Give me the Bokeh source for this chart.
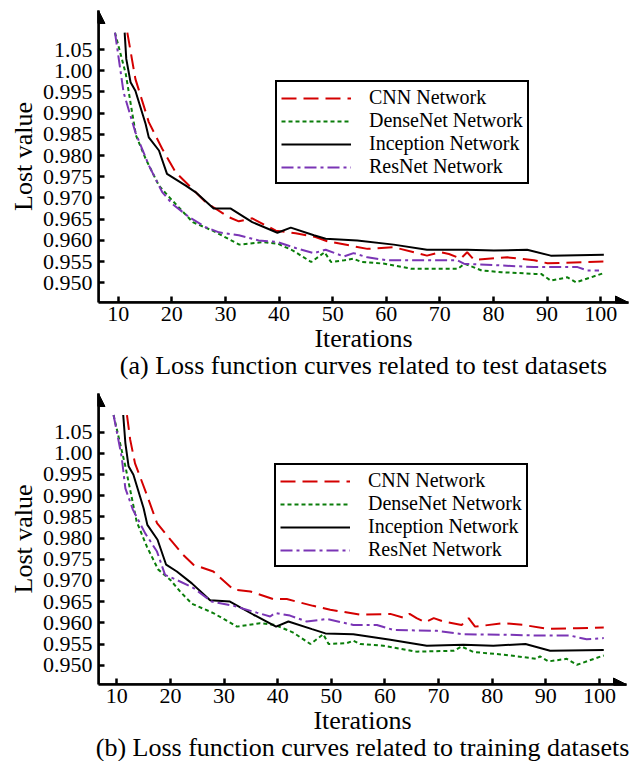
from bokeh.plotting import figure
from bokeh.models import Range1d, Arrow, NormalHead, FixedTicker, Legend, LegendItem
from bokeh.layouts import column
from bokeh.embed import file_html
from bokeh.resources import INLINE

# ---------------- data ----------------
series_names = ["CNN Network", "DenseNet Network", "Inception Network", "ResNet Network"]

y_ticks = [0.950, 0.955, 0.960, 0.965, 0.970, 0.975, 0.980, 0.985, 0.990, 0.995, 1.000, 1.005]
y_tick_labels = ["0.950", "0.955", "0.960", "0.965", "0.970", "0.975", "0.980", "0.985",
                 "0.990", "0.995", "1.00", "1.05"]
x_ticks = [10, 20, 30, 40, 50, 60, 70, 80, 90, 100]

# (a) test datasets
test_cnn_x = [11.7, 13.2, 15.7, 18.2, 20.7, 23.8, 26.3, 30.6, 32.5, 35.0, 39.4, 43.1, 46.8, 49.0,
              56.5, 61.4, 67.6, 70.1, 71.7, 73.9, 75.1, 76.4, 82.6, 87.6, 90.1, 100.6]
test_cnn_y = [1.009, 0.9981, 0.9879, 0.9816, 0.9761, 0.9722, 0.9690, 0.9655, 0.9645, 0.9652, 0.9623,
              0.9617, 0.9608, 0.9598, 0.9580, 0.9584, 0.9564, 0.9572, 0.9568, 0.9557, 0.9572, 0.9554,
              0.9560, 0.9553, 0.9546, 0.9550]
test_dense_x = [9.4, 11.4, 13.3, 15.1, 17.6, 20.1, 23.9, 27.6, 32.6, 37.0, 39.8, 42.6, 46.0, 48.5,
                49.7, 52.2, 53.8, 55.4, 59.7, 64.7, 73.4, 74.6, 77.8, 81.5, 87.7, 88.9, 90.7, 93.8,
                95.4, 100.6]
test_dense_y = [1.009, 0.9993, 0.9848, 0.9793, 0.9729, 0.9694, 0.9643, 0.9623, 0.9590, 0.9596, 0.9592,
                0.9576, 0.9549, 0.9572, 0.9549, 0.9553, 0.9557, 0.9549, 0.9545, 0.9533, 0.9533, 0.9545,
                0.9529, 0.9525, 0.9521, 0.9521, 0.9505, 0.9513, 0.9501, 0.9523]
test_incep_x = [11.2, 11.5, 12.3, 13.2, 15.1, 15.7, 17.6, 19.1, 22.6, 24.4, 27.8, 31.0, 35.0, 39.7,
                42.2, 46.5, 48.7, 54.6, 61.4, 67.6, 75.1, 80.1, 86.3, 90.7, 100.6]
test_incep_y = [1.009, 1.0028, 0.9973, 0.9953, 0.9875, 0.9843, 0.9812, 0.9757, 0.9729, 0.9714, 0.9675,
                0.9675, 0.9643, 0.9618, 0.9630, 0.9612, 0.9604, 0.9600, 0.9590, 0.9578, 0.9578, 0.9576,
                0.9578, 0.9564, 0.9566]
test_res_x = [9.4, 11.0, 13.2, 15.7, 18.2, 20.1, 23.2, 26.3, 28.8, 32.5, 36.2, 39.7, 43.1, 46.5, 48.7,
              52.1, 53.9, 56.5, 60.2, 65.8, 73.3, 74.5, 81.3, 87.6, 95.7, 97.5, 99.7]
test_res_y = [1.009, 0.9949, 0.9855, 0.9777, 0.9714, 0.9686, 0.9655, 0.9631, 0.9619, 0.9612, 0.9600,
              0.9596, 0.9582, 0.9570, 0.9578, 0.9562, 0.9570, 0.9560, 0.9553, 0.9553, 0.9553, 0.9545,
              0.9541, 0.9537, 0.9537, 0.9529, 0.9529]

# (b) training datasets
train_cnn_x = [11.9, 12.5, 13.4, 15.6, 17.5, 20.0, 22.4, 24.3, 28.0, 31.8, 34.9, 39.2, 41.7, 46.6,
               49.8, 55.4, 61.0, 63.5, 64.6, 65.9, 67.5, 69.1, 70.9, 74.3, 75.6, 76.8, 82.1, 85.8,
               90.2, 95.8, 100.8]
train_cnn_y = [1.009, 1.0032, 0.9976, 0.9902, 0.9835, 0.9796, 0.9760, 0.9737, 0.9721, 0.9678, 0.9674,
               0.9656, 0.9656, 0.9640, 0.9631, 0.9619, 0.9621, 0.9612, 0.9621, 0.9611, 0.9601, 0.9611,
               0.9603, 0.9595, 0.9611, 0.9591, 0.9599, 0.9595, 0.9586, 0.9587, 0.9589]
train_dense_x = [9.4, 11.6, 13.7, 15.6, 17.7, 20.0, 21.8, 24.0, 28.0, 32.4, 36.7, 39.5, 42.9, 46.1,
                 48.5, 49.5, 52.9, 54.1, 55.4, 59.7, 65.9, 72.8, 74.3, 76.5, 82.1, 88.3, 88.9, 90.5,
                 93.9, 95.8, 100.8]
train_dense_y = [1.009, 0.9969, 0.9839, 0.9780, 0.9726, 0.9701, 0.9674, 0.9645, 0.9623, 0.9591, 0.9599,
                 0.9595, 0.9577, 0.9550, 0.9573, 0.9550, 0.9552, 0.9558, 0.9550, 0.9546, 0.9532,
                 0.9534, 0.9544, 0.9531, 0.9525, 0.9515, 0.9521, 0.9509, 0.9515, 0.9501, 0.9523]
train_incep_x = [11.2, 11.6, 12.2, 13.1, 15.0, 15.7, 17.6, 19.2, 21.2, 24.0, 27.4, 31.1, 35.5, 39.7,
                 42.0, 46.4, 48.9, 54.1, 61.0, 67.8, 74.6, 80.2, 86.2, 90.8, 100.8]
train_incep_y = [1.009, 1.0024, 0.9969, 0.9949, 0.9870, 0.9831, 0.9796, 0.9737, 0.9721, 0.9693, 0.9653,
                 0.9650, 0.9619, 0.9591, 0.9603, 0.9585, 0.9575, 0.9573, 0.9560, 0.9546, 0.9548,
                 0.9546, 0.9550, 0.9534, 0.9536]
train_res_x = [9.4, 10.9, 11.6, 13.0, 15.3, 17.5, 19.0, 21.2, 24.3, 27.7, 31.8, 36.1, 38.6, 39.5, 42.3,
               45.4, 49.2, 54.1, 58.5, 61.6, 69.7, 74.6, 82.1, 88.3, 94.5, 97.6, 100.8]
train_res_y = [1.009, 0.9992, 0.9917, 0.9867, 0.9811, 0.9768, 0.9713, 0.9701, 0.9682, 0.9650, 0.9640,
               0.9624, 0.9615, 0.9623, 0.9617, 0.9603, 0.9609, 0.9595, 0.9595, 0.9583, 0.9581, 0.9573,
               0.9572, 0.9570, 0.9570, 0.9561, 0.9564]

captions = ["(a) Loss function curves related to test datasets",
            "(b) Loss function curves related to training datasets"]

# ---------------- styles ----------------
FONT = "Liberation Serif"
colors = ["#d40000", "#0a7d0a", "#000000", "#7a35b5"]
dashes = ["15 7", "4 3", "solid", "12 4 3 4"]


def make_panel(series, caption, xr, yr, fw, fh, left, right, bottom, legend_loc):
    p = figure(frame_width=fw, frame_height=fh, x_range=Range1d(*xr), y_range=Range1d(*yr),
               output_backend="svg", toolbar_location=None,
               min_border_left=left, min_border_right=right, min_border_top=10,
               min_border_bottom=bottom)
    p.background_fill_color = "white"
    p.border_fill_color = "white"
    p.outline_line_color = None
    p.grid.visible = False

    items = []
    for (xs, ys), name, c, d in zip(series, series_names, colors, dashes):
        r = p.line(xs, ys, line_color=c, line_width=2, line_dash=d)
        items.append(LegendItem(label=name, renderers=[r]))

    for ax in (p.xaxis[0], p.yaxis[0]):
        ax.axis_line_width = 2.5
        ax.axis_line_color = "black"
        ax.major_tick_in = 6
        ax.major_tick_out = 0
        ax.major_tick_line_width = 2.5
        ax.minor_tick_in = 0
        ax.minor_tick_out = 0
        ax.major_label_text_font = FONT
        ax.major_label_text_font_size = "22px"
        ax.major_label_text_color = "black"
        ax.axis_label_text_font = FONT
        ax.axis_label_text_font_style = "normal"
        ax.axis_label_text_color = "black"

    p.xaxis[0].ticker = FixedTicker(ticks=x_ticks)
    p.xaxis[0].major_label_standoff = 4
    p.xaxis[0].axis_label = "Iterations\n" + caption
    p.xaxis[0].axis_label_text_font_size = "26px"
    p.xaxis[0].axis_label_text_line_height = 0.95
    p.xaxis[0].axis_label_standoff = 0

    p.yaxis[0].ticker = FixedTicker(ticks=y_ticks)
    p.yaxis[0].major_label_overrides = {t: l for t, l in zip(y_ticks, y_tick_labels)}
    p.yaxis[0].major_label_standoff = 6
    p.yaxis[0].axis_label = "Lost value"
    p.yaxis[0].axis_label_text_font_size = "26px"
    p.yaxis[0].axis_label_standoff = 2

    legend = Legend(items=items, location=legend_loc)
    legend.label_text_font = FONT
    legend.label_text_font_size = "20px"
    legend.label_text_color = "black"
    legend.glyph_width = 70
    legend.glyph_height = 18
    legend.label_height = 18
    legend.label_standoff = 18
    legend.spacing = 0
    legend.padding = 4
    legend.margin = 0
    legend.border_line_color = "black"
    legend.border_line_alpha = 1
    legend.border_line_width = 2
    legend.background_fill_alpha = 1
    p.add_layout(legend, "center")

    head = dict(size=13, fill_color="black", line_color="black", line_width=1)
    p.add_layout(Arrow(end=NormalHead(**head), x_start=xr[0], y_start=yr[0], x_end=xr[0], y_end=yr[1],
                       line_width=2.5, line_color="black"))
    p.add_layout(Arrow(end=NormalHead(**head), x_start=xr[0], y_start=yr[0], x_end=xr[1], y_end=yr[0],
                       line_width=2.5, line_color="black"))
    return p


p1 = make_panel([(test_cnn_x, test_cnn_y), (test_dense_x, test_dense_y),
                 (test_incep_x, test_incep_y), (test_res_x, test_res_y)],
                captions[0], (6.32, 105.2), (0.94535, 1.01422), 530, 292, 98, 7, 80, (177, 118))
p2 = make_panel([(train_cnn_x, train_cnn_y), (train_dense_x, train_dense_y),
                 (train_incep_x, train_incep_y), (train_res_x, train_res_y)],
                captions[1], (6.59, 105.04), (0.94545, 1.01408), 528, 291, 95, 12, 78, (176, 117))

layout = column(p1, p2, spacing=0)
open("out.html", "w").write(file_html(layout, INLINE))
